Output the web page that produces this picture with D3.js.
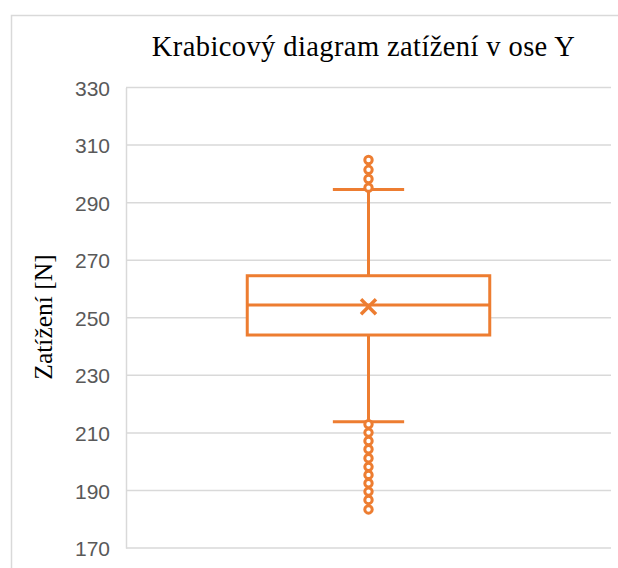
<!DOCTYPE html>
<html>
<head>
<meta charset="utf-8">
<script src="https://cdn.jsdelivr.net/npm/d3@7"></script>
<style>
  html, body { margin: 0; padding: 0; background: #ffffff; }
  svg { display: block; }
</style>
</head>
<body>
<svg id="chart" width="618" height="568"></svg>
<script>
// Load along the Y axis, N — box plot summary
const category = ["Y"];
const boxStats = { q1: 244.0, median: 254.4, q3: 264.6, mean: 253.8, whiskerLow: 213.9, whiskerHigh: 294.6 };
const outliersHigh = [304.8, 301.4, 298.2, 295.2];
const outliersLow = [213.0, 210.1, 207.2, 204.3, 201.2, 198.2, 195.4, 192.5, 189.6, 186.7, 183.4];
const yTicks = [170, 190, 210, 230, 250, 270, 290, 310, 330];

const titleText = "Krabicový diagram zatížení v ose Y";
const yLabelText = "Zatížení [N]";

const W = 618, H = 568;
const plot = { left: 126, right: 611, top: 87.5, bottom: 548 };
const color = "#ED7D31";
const gridColor = "#D9D9D9";

const svg = d3.select("#chart");

// chart area frame
svg.append("rect")
  .attr("x", 11.5).attr("y", 15.5)
  .attr("width", W + 20).attr("height", H + 20)
  .attr("fill", "#ffffff")
  .attr("stroke", gridColor).attr("stroke-width", 1.5);

const y = d3.scaleLinear().domain([170, 330]).range([plot.bottom, plot.top]);
const x = d3.scaleBand().domain(category).range([plot.left, plot.right]).paddingInner(0).paddingOuter(0);

// gridlines
svg.append("g")
  .selectAll("line")
  .data(yTicks)
  .join("line")
  .attr("x1", plot.left).attr("x2", plot.right)
  .attr("y1", d => y(d)).attr("y2", d => y(d))
  .attr("stroke", gridColor).attr("stroke-width", 1.5);

// value axis
const yAxis = d3.axisLeft(y).tickValues(yTicks).tickSize(0).tickPadding(16);
const gy = svg.append("g").attr("transform", `translate(${plot.left},0)`).call(yAxis);
gy.select(".domain").attr("stroke", gridColor).attr("stroke-width", 1.5);
gy.selectAll("text")
  .attr("fill", "#595959")
  .attr("font-family", "'Liberation Sans', Arial, sans-serif")
  .attr("font-size", 21)
  .attr("dy", "0.36em");

// title
svg.append("text")
  .attr("x", 363.5).attr("y", 56)
  .attr("text-anchor", "middle")
  .attr("font-family", "'Liberation Serif', 'Times New Roman', serif")
  .attr("font-size", 28.5)
  .attr("letter-spacing", 0.4)
  .attr("fill", "#000000")
  .text(titleText);

// axis title
svg.append("text")
  .attr("transform", "translate(52,317) rotate(-90)")
  .attr("text-anchor", "middle")
  .attr("font-family", "'Liberation Serif', 'Times New Roman', serif")
  .attr("font-size", 25.5)
  .attr("fill", "#000000")
  .text(yLabelText);

// box plot
const cx = x(category[0]) + x.bandwidth() / 2;
const boxW = x.bandwidth() * 0.5;
const capW = x.bandwidth() * 0.147;
const g = svg.append("g")
  .attr("stroke", color).attr("stroke-width", 3).attr("fill", "none");

// whiskers
g.append("line").attr("x1", cx).attr("x2", cx)
  .attr("y1", y(boxStats.q3)).attr("y2", y(boxStats.whiskerHigh));
g.append("line").attr("x1", cx).attr("x2", cx)
  .attr("y1", y(boxStats.q1)).attr("y2", y(boxStats.whiskerLow));
[boxStats.whiskerHigh, boxStats.whiskerLow].forEach(v => {
  g.append("line")
    .attr("x1", cx - capW / 2).attr("x2", cx + capW / 2)
    .attr("y1", y(v)).attr("y2", y(v));
});

// box
g.append("rect")
  .attr("x", cx - boxW / 2).attr("width", boxW)
  .attr("y", y(boxStats.q3)).attr("height", y(boxStats.q1) - y(boxStats.q3))
  .attr("fill", "#ffffff");
g.append("line")
  .attr("x1", cx - boxW / 2).attr("x2", cx + boxW / 2)
  .attr("y1", y(boxStats.median)).attr("y2", y(boxStats.median));

// mean marker
const m = 7.5;
const my = y(boxStats.mean);
g.append("path")
  .attr("d", `M${cx - m},${my - m}L${cx + m},${my + m}M${cx - m},${my + m}L${cx + m},${my - m}`)
  .attr("stroke-width", 3.5);

// outliers
g.selectAll("circle")
  .data(outliersHigh.concat(outliersLow))
  .join("circle")
  .attr("cx", cx).attr("cy", d => y(d))
  .attr("r", 3.7)
  .attr("fill", "#ffffff")
  .attr("stroke-width", 3);
</script>
</body>
</html>
